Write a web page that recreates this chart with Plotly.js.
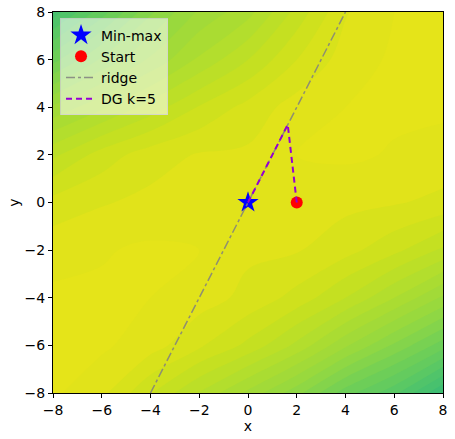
<!DOCTYPE html>
<html>
<head>
<meta charset="utf-8">
<script src="https://cdn.plot.ly/plotly-3.0.1.min.js"></script>
<style>
  body { margin: 0; background: #fff; }
  #plot { width: 455px; height: 439px; }
</style>
</head>
<body>
<div id="plot"></div>
<script>
// grid coordinates of the surface
var gridX = [-8, -6, -4, -2, 0, 2, 4, 6, 8];
var gridY = [-8, -6, -4, -2, 0, 2, 4, 6, 8];

// surface height (0 = greenest corner, 10 = yellowest)
var rowYm8 = [10, 9.5, 8.3, 7.1, 5.9, 4.6, 3.0, 1.8, 0];
var rowYm6 = [10, 10, 9.6, 8.9, 8.1, 7.0, 5.6, 4.3, 3.0];
var rowYm4 = [10, 10, 9.9, 9.6, 9.2, 8.6, 7.7, 6.6, 5.4];
var rowYm2 = [9.7, 9.85, 10, 9.9, 9.45, 9.4, 9.0, 8.4, 7.6];
var rowY0 = [9.0, 9.3, 9.5, 9.5, 9.5, 9.55, 9.5, 9.4, 9.2];
var rowY2 = [7.6, 8.5, 9.1, 9.4, 9.45, 9.9, 10, 9.85, 9.7];
var rowY4 = [5.6, 6.5, 7.4, 8.3, 9.0, 9.6, 9.9, 10, 10];
var rowY6 = [3.1, 4.5, 5.6, 6.7, 7.7, 8.8, 9.6, 10, 10];
var rowY8 = [0.8, 2.5, 4.3, 5.6, 6.4, 7.9, 9.3, 9.9, 10];

// points and paths
var minmaxX = [0], minmaxY = [0];
var startX = [2], startY = [0];
var ridgeX = [-4, 4], ridgeY = [-8, 8];
var dgX = [2, 1.63, 1.2, 0.8, 0.4, 0];
var dgY = [0, 3.27, 2.4, 1.6, 0.8, 0];

var font = {family: 'DejaVu Sans', size: 14, color: '#000'};

var surface = {
  type: 'contour',
  x: gridX,
  y: gridY,
  z: [rowYm8, rowYm6, rowYm4, rowYm2, rowY0, rowY2, rowY4, rowY6, rowY8],
  zmin: 0, zmax: 10,
  autocontour: false,
  contours: {start: 0, end: 10, size: 0.55, coloring: 'fill', showlines: false},
  line: {width: 0},
  colorscale: [
    [0, '#3bbb75'], [0.15, '#52c569'], [0.31, '#6ece58'], [0.5, '#95d840'],
    [0.71, '#b5de2b'], [0.85, '#cde11d'], [1, '#e5e419']
  ],
  showscale: false,
  showlegend: false,
  hoverinfo: 'skip'
};

var minmax = {
  type: 'scatter', mode: 'markers', name: 'Min-max',
  x: minmaxX, y: minmaxY,
  marker: {symbol: 'star', size: 16, color: 'blue', line: {width: 0}}
};
var start = {
  type: 'scatter', mode: 'markers', name: 'Start',
  x: startX, y: startY,
  marker: {symbol: 'circle', size: 12, color: 'red', line: {width: 0}}
};
var ridge = {
  type: 'scatter', mode: 'lines', name: 'ridge',
  x: ridgeX, y: ridgeY,
  line: {color: 'rgba(128,128,128,0.85)', width: 1.5, dash: 'dashdot'}
};
var dg = {
  type: 'scatter', mode: 'lines', name: 'DG k=5',
  x: dgX, y: dgY,
  line: {color: '#9400d3', width: 2, dash: '6px,4px'}
};

var axisBase = {
  range: [-8, 8],
  tickvals: [-8, -6, -4, -2, 0, 2, 4, 6, 8],
  ticks: 'outside', ticklen: 4, tickcolor: '#000',
  showline: true, linecolor: '#000', linewidth: 1, mirror: true,
  showgrid: false, zeroline: false,
  tickfont: font
};

var layout = {
  width: 455, height: 439,
  margin: {l: 53, r: 12, t: 12, b: 46},
  paper_bgcolor: '#fff', plot_bgcolor: '#fff',
  font: font,
  xaxis: Object.assign({}, axisBase, {title: {text: 'x', font: font, standoff: 0}}),
  yaxis: Object.assign({}, axisBase, {title: {text: 'y', font: font, standoff: 1}}),
  legend: {
    x: 0.018, y: 0.983, xanchor: 'left', yanchor: 'top',
    bgcolor: 'rgba(255,255,255,0.55)', bordercolor: 'rgba(210,210,210,0.8)', borderwidth: 1,
    font: font
  },
  showlegend: true
};

Plotly.newPlot('plot', [surface, minmax, start, ridge, dg], layout, {staticPlot: true});
</script>
</body>
</html>
